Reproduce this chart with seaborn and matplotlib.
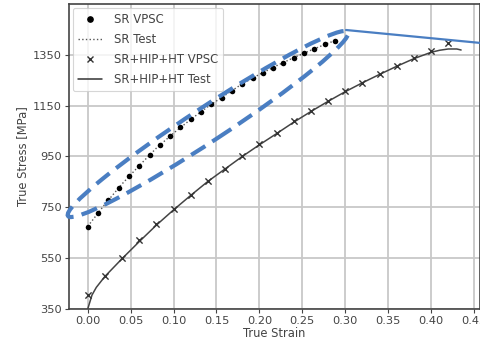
import numpy as np
import pandas as pd
import matplotlib
matplotlib.use("Agg")
import matplotlib.pyplot as plt
import matplotlib.transforms as mtransforms
from matplotlib.patches import Ellipse
from matplotlib.lines import Line2D
import seaborn as sns

# ---- data ----
sr_vpsc_strain = [0.000, 0.012, 0.024, 0.036, 0.048, 0.060, 0.072, 0.084, 0.096,
                  0.108, 0.120, 0.132, 0.144, 0.156, 0.168, 0.180, 0.192, 0.204,
                  0.216, 0.228, 0.240, 0.252, 0.264, 0.276, 0.288]
sr_vpsc_stress = [673, 727, 777, 827, 872, 914, 956, 996, 1030,
                  1065, 1096, 1127, 1156, 1182, 1208, 1236, 1258, 1280,
                  1300, 1319, 1339, 1356, 1374, 1391, 1405]

sr_test_strain = [0.000, 0.02, 0.04, 0.06, 0.08, 0.10, 0.12, 0.14, 0.16, 0.18,
                  0.20, 0.22, 0.24, 0.26, 0.28, 0.29]
sr_test_stress = [675, 762, 842, 914, 983, 1042, 1096, 1146, 1191, 1236,
                  1273, 1307, 1339, 1368, 1396, 1408]

hip_vpsc_strain = [0.00, 0.02, 0.04, 0.06, 0.08, 0.10, 0.12, 0.14, 0.16, 0.18, 0.20,
                   0.22, 0.24, 0.26, 0.28, 0.30, 0.32, 0.34, 0.36, 0.38, 0.40, 0.42]
hip_vpsc_stress = [405, 480, 550, 620, 684, 742, 800, 855, 902, 952, 999,
                   1041, 1088, 1130, 1169, 1206, 1241, 1274, 1305, 1337, 1365, 1395]

hip_test_strain = [0.000, 0.005, 0.01, 0.02, 0.04, 0.06, 0.08, 0.10, 0.12, 0.14,
                   0.16, 0.18, 0.20, 0.22, 0.24, 0.26, 0.28, 0.30, 0.32, 0.34,
                   0.36, 0.38, 0.40, 0.41, 0.42, 0.43, 0.435]
hip_test_stress = [350, 405, 435, 478, 548, 615, 680, 740, 797, 852,
                   901, 950, 996, 1040, 1085, 1127, 1167, 1205, 1240, 1273,
                   1305, 1335, 1360, 1368, 1373, 1373, 1369]

x_ticks = [0.00, 0.05, 0.10, 0.15, 0.20, 0.25, 0.30, 0.35, 0.40, 0.45]
y_ticks = [350, 550, 750, 950, 1150, 1350]

sns.set_style("whitegrid", {"grid.color": "#c8c8c8", "axes.edgecolor": "#333333"})
plt.rcParams["font.family"] = ["DejaVu Sans"]

W, H = 481, 347
fig = plt.figure(figsize=(W / 100, H / 100), dpi=100)
ax = fig.add_axes([69 / W, 1 - 309 / H, 411 / W, 305 / H])

df_sr_vpsc = pd.DataFrame({"strain": sr_vpsc_strain, "stress": sr_vpsc_stress})
df_sr_test = pd.DataFrame({"strain": sr_test_strain, "stress": sr_test_stress})
df_hip_vpsc = pd.DataFrame({"strain": hip_vpsc_strain, "stress": hip_vpsc_stress})
df_hip_test = pd.DataFrame({"strain": hip_test_strain, "stress": hip_test_stress})

sns.lineplot(data=df_sr_test, x="strain", y="stress", ax=ax, color="#555555",
             linestyle=":", linewidth=1.0, zorder=2)
sns.lineplot(data=df_hip_test, x="strain", y="stress", ax=ax, color="#444444",
             linewidth=1.1, zorder=2)
sns.scatterplot(data=df_sr_vpsc, x="strain", y="stress", ax=ax, color="black",
                marker="o", s=16, edgecolor="black", linewidth=0, zorder=3)
sns.scatterplot(data=df_hip_vpsc, x="strain", y="stress", ax=ax, color="#333333",
                marker="x", s=20, linewidth=1.0, zorder=3)

ax.set_xlim(-0.0218, 0.457)
ax.set_ylim(350, 1550)
ax.set_xticks(x_ticks)
ax.set_yticks(y_ticks)
ax.set_xticklabels([f"{v:.2f}" for v in x_ticks])
ax.tick_params(axis="both", labelsize=8.2, colors="#444444", length=3,
               width=0.8, direction="out", left=True, bottom=True, pad=2)
ax.grid(True, color="#c8c8c8", linewidth=1.3)
for sp in ax.spines.values():
    sp.set_color("#444444")
    sp.set_linewidth(1.2)
ax.set_xlabel("True Strain", fontsize=8.3, color="#444444", labelpad=1)
ax.set_ylabel("True Stress [MPa]", fontsize=8.3, color="#444444", labelpad=3)

handles = [
    Line2D([], [], color="black", marker="o", linestyle="none", markersize=3.8),
    Line2D([], [], color="#555555", linestyle=":", linewidth=1.0),
    Line2D([], [], color="#333333", marker="x", linestyle="none", markersize=4,
           markeredgewidth=1.0),
    Line2D([], [], color="#333333", linewidth=1.1),
]
labels = ["SR VPSC", "SR Test", "SR+HIP+HT VPSC", "SR+HIP+HT Test"]
leg = ax.legend(handles, labels, loc="upper left", fontsize=8.4, frameon=True,
                borderaxespad=0.3, handlelength=2.1, handletextpad=1.0,
                labelspacing=0.6, borderpad=0.45)
leg.get_frame().set_edgecolor("#cccccc")
leg.get_frame().set_linewidth(0.8)
for t in leg.get_texts():
    t.set_color("#444444")

# ---- blue annotation overlay (pixel coordinates) ----
ident = mtransforms.IdentityTransform()
ell = Ellipse((208, H - 124), width=335, height=34, angle=33.3,
              transform=ident, fill=False, edgecolor="#4a7ec2", linewidth=3.0,
              linestyle=(0, (4, 2)), clip_on=False, zorder=5)
fig.add_artist(ell)
fig.add_artist(Line2D([346, 481], [H - 30, H - 43], transform=ident,
                      color="#4a7ec2", linewidth=1.6, zorder=5))

fig.savefig("out.png", dpi=100)
